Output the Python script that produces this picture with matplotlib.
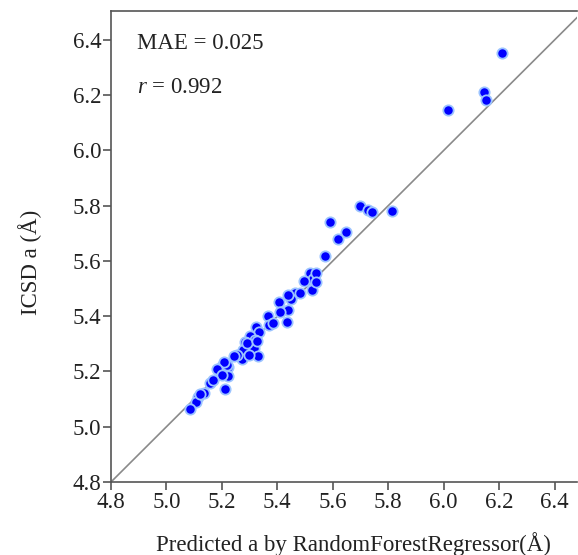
import matplotlib
matplotlib.use("Agg")
import matplotlib.pyplot as plt
import numpy as np

predicted = [
    6.21, 6.145, 6.151, 6.015,
    5.697, 5.726, 5.74, 5.813,
    5.589, 5.649, 5.62, 5.572,
    5.517, 5.529, 5.495, 5.541, 5.525, 5.538,
    5.463, 5.448, 5.437, 5.481, 5.405, 5.437, 5.408, 5.367, 5.433,
    5.369, 5.385, 5.322, 5.334, 5.303, 5.283, 5.319, 5.315, 5.277,
    5.331, 5.271, 5.298, 5.289, 5.325, 5.255, 5.244,
    5.223, 5.199, 5.217, 5.208, 5.223, 5.193, 5.184, 5.199,
    5.157, 5.169, 5.211, 5.136, 5.114, 5.105, 5.085, 5.121,
]
icsd = [
    6.354, 6.213, 6.184, 6.146,
    5.797, 5.785, 5.777, 5.781,
    5.74, 5.705, 5.681, 5.618,
    5.555, 5.536, 5.528, 5.557, 5.495, 5.525,
    5.485, 5.462, 5.477, 5.483, 5.45, 5.423, 5.414, 5.401, 5.379,
    5.368, 5.374, 5.362, 5.342, 5.328, 5.306, 5.314, 5.286, 5.278,
    5.256, 5.244, 5.26, 5.304, 5.311, 5.26, 5.256,
    5.215, 5.22, 5.224, 5.235, 5.184, 5.19, 5.208, 5.186,
    5.157, 5.169, 5.137, 5.121, 5.109, 5.089, 5.064, 5.117,
]
ticks = [4.8, 5.0, 5.2, 5.4, 5.6, 5.8, 6.0, 6.2, 6.4]
mae_text = "MAE = 0.025"
r_value = "0.992"

plt.rcParams['font.family'] = ['Liberation Serif', 'DejaVu Serif']
plt.rcParams['mathtext.fontset'] = 'custom'
plt.rcParams['mathtext.it'] = 'Liberation Serif:italic'
plt.rcParams['mathtext.rm'] = 'Liberation Serif'

FS = 16.5
fig = plt.figure(figsize=(5.78, 5.55), dpi=100)
ax = fig.add_axes([0.192, 0.1315, 0.806, 0.849])

ax.plot([4.8, 6.6], [4.8, 6.6], color='#8a8a8a', lw=1.2, zorder=1)
ax.scatter(predicted, icsd, s=55, c='#0000ff', edgecolors='#9cc4ff',
           linewidths=1.3, zorder=3)

ax.set_xlim(4.8, 6.48)
ax.set_ylim(4.8, 6.505)
ax.set_xticks(ticks)
ax.set_yticks(ticks)
ax.set_xticklabels([f"{t:.1f}" for t in ticks])
ax.set_yticklabels([f"{t:.1f}" for t in ticks])

for s in ['left', 'bottom', 'top', 'right']:
    ax.spines[s].set_color('#555555')
    ax.spines[s].set_linewidth(1.2)
ax.spines['right'].set_visible(False)

ax.tick_params(direction='out', length=6, width=1.2, color='#555555',
               labelsize=FS, labelcolor='#222222', pad=1)

ax.set_xlabel("Predicted a by RandomForestRegressor(Å)", fontsize=FS,
              labelpad=14, color='#222222')
ax.set_ylabel("ICSD a (Å)", fontsize=FS, labelpad=22, color='#222222')
ax.xaxis.label.set_x(0.521)
ax.yaxis.label.set_y(0.467)

ax.text(0.055, 0.93, mae_text, transform=ax.transAxes, fontsize=FS,
        color='#222222', va='center')
ax.text(0.055, 0.837, r"$r$ = " + r_value, transform=ax.transAxes,
        fontsize=FS, color='#222222', va='center')

fig.savefig("out.png", dpi=100)
